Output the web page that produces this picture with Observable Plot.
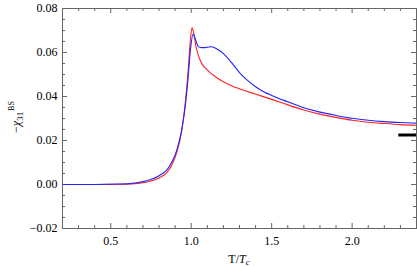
<!DOCTYPE html>
<html><head><meta charset="utf-8">
<script src="https://cdn.jsdelivr.net/npm/d3@7"></script>
<script src="https://cdn.jsdelivr.net/npm/@observablehq/plot@0.6"></script>
<style>
body{margin:0;background:#fff}
#chart svg, #chart svg text{font-family:"Liberation Serif","Times New Roman","DejaVu Serif",serif !important;}
</style>
</head><body><div id="chart"></div>
<script>
// Red curve: T/Tc and -chi31^BS
const tRed   = [0.2, 0.4, 0.55, 0.65, 0.7, 0.75, 0.8, 0.85, 0.88, 0.91, 0.94, 0.96, 0.98, 0.995, 1.005, 1.015, 1.03, 1.05, 1.07, 1.1, 1.15, 1.2, 1.25, 1.3, 1.4, 1.5, 1.6, 1.7, 1.8, 1.9, 2.0, 2.1, 2.2, 2.3, 2.4];
const chiRed = [0, 0, 0.0001, 0.0004, 0.0008, 0.0016, 0.003, 0.0055, 0.009, 0.0145, 0.024, 0.035, 0.051, 0.066, 0.0712, 0.069, 0.0625, 0.0575, 0.0545, 0.052, 0.049, 0.0467, 0.0449, 0.0435, 0.0411, 0.0387, 0.0362, 0.0339, 0.032, 0.0305, 0.0292, 0.0283, 0.0277, 0.0272, 0.0269];
// Blue curve
const tBlue   = [0.2, 0.4, 0.55, 0.65, 0.7, 0.75, 0.8, 0.85, 0.88, 0.91, 0.94, 0.96, 0.98, 0.995, 1.012, 1.025, 1.04, 1.055, 1.08, 1.1, 1.126, 1.16, 1.2, 1.25, 1.3, 1.35, 1.4, 1.45, 1.5, 1.6, 1.7, 1.8, 1.9, 2.0, 2.1, 2.2, 2.3, 2.4];
const chiBlue = [0, 0, 0.0002, 0.0007, 0.0013, 0.0023, 0.004, 0.0068, 0.0102, 0.0155, 0.0245, 0.034, 0.048, 0.061, 0.0684, 0.0662, 0.0632, 0.0623, 0.0622, 0.0624, 0.0626, 0.0616, 0.0595, 0.0555, 0.0509, 0.0473, 0.0444, 0.0422, 0.0405, 0.0376, 0.0349, 0.0329, 0.0314, 0.0301, 0.0292, 0.0286, 0.0282, 0.0279];
// Black reference segment (limit value)
const refValue = [0.0225];
const refRange = [2.29, 2.4];

const xMajor = [0.5, 1.0, 1.5, 2.0];
const xMinor = [0.3, 0.4, 0.6, 0.7, 0.8, 0.9, 1.1, 1.2, 1.3, 1.4, 1.6, 1.7, 1.8, 1.9, 2.1, 2.2, 2.3];
const yMajor = [-0.02, 0.0, 0.02, 0.04, 0.06, 0.08];
const yMinor = [-0.015, -0.01, -0.005, 0.005, 0.01, 0.015, 0.025, 0.03, 0.035, 0.045, 0.05, 0.055, 0.065, 0.07, 0.075];

const red = tRed.map((t, i) => ({t, v: chiRed[i]}));
const blue = tBlue.map((t, i) => ({t, v: chiBlue[i]}));

const W = 417, Hh = 267, mL = 62, mR = 1, mT = 8, mB = 39;
const iw = W - mL - mR, ih = Hh - mT - mB;
const frameColor = "#666";
const major = 5, minor = 3;
const serif = "'Liberation Serif','Times New Roman','DejaVu Serif',serif";

const chart = Plot.plot({
  width: W, height: Hh,
  marginLeft: mL, marginRight: mR, marginTop: mT, marginBottom: mB,
  style: {fontFamily: serif, fontSize: "12px", background: "#fff", color: "#000"},
  x: {domain: [0.2, 2.4]},
  y: {domain: [-0.02, 0.08]},
  marks: [
    Plot.axisX(xMajor, {tickSize: 0, tickPadding: 8, tickFormat: d3.format(".1f"), label: null, fontSize: 12}),
    Plot.axisY(yMajor, {tickSize: 0, tickPadding: 5, tickFormat: d => d3.format(".2f")(d).replace("-", "\u2212"), label: null, fontSize: 12}),
    // inward ticks on all four sides
    Plot.tickX(xMajor, {x: d => d, insetTop: ih - major, stroke: frameColor}),
    Plot.tickX(xMinor, {x: d => d, insetTop: ih - minor, stroke: frameColor}),
    Plot.tickX(xMajor, {x: d => d, insetBottom: ih - major, stroke: frameColor}),
    Plot.tickX(xMinor, {x: d => d, insetBottom: ih - minor, stroke: frameColor}),
    Plot.tickY(yMajor, {y: d => d, insetRight: iw - major, stroke: frameColor}),
    Plot.tickY(yMinor, {y: d => d, insetRight: iw - minor, stroke: frameColor}),
    Plot.tickY(yMajor, {y: d => d, insetLeft: iw - major, stroke: frameColor}),
    Plot.tickY(yMinor, {y: d => d, insetLeft: iw - minor, stroke: frameColor}),
    Plot.line(red, {x: "t", y: "v", stroke: "#f22", strokeWidth: 1.1, curve: "monotone-x"}),
    Plot.line(blue, {x: "t", y: "v", stroke: "#22f", strokeWidth: 1.1, curve: "monotone-x"}),
    Plot.ruleY(refValue, {y: d => d, x1: refRange[0], x2: refRange[1], stroke: "#000", strokeWidth: 3}),
    Plot.frame({stroke: frameColor})
  ]
});

const svg = d3.select(chart);
// x-axis label: T/T_c
const xl = svg.append("text")
  .attr("x", mL + iw / 2).attr("y", 263)
  .attr("text-anchor", "middle")
  .attr("font-family", serif).attr("font-size", 12).attr("fill", "#000");
xl.append("tspan").text("T/");
xl.append("tspan").attr("font-style", "italic").text("T");
xl.append("tspan").attr("font-style", "italic").attr("font-size", 9).attr("dy", 2).text("c");

// y-axis label: −χ_31^BS
const yl = svg.append("text")
  .attr("transform", "translate(20,117) rotate(-90)")
  .attr("text-anchor", "middle")
  .attr("font-family", serif).attr("font-size", 12).attr("fill", "#000");
yl.append("tspan").text("\u2212");
yl.append("tspan").attr("font-style", "italic").text("\u03c7");
yl.append("tspan").attr("font-size", 9).attr("dy", 3).text("31");
yl.append("tspan").attr("font-size", 8).attr("dy", -9).attr("dx", 1).text("BS");

document.getElementById("chart").appendChild(chart);
</script>
</body></html>
